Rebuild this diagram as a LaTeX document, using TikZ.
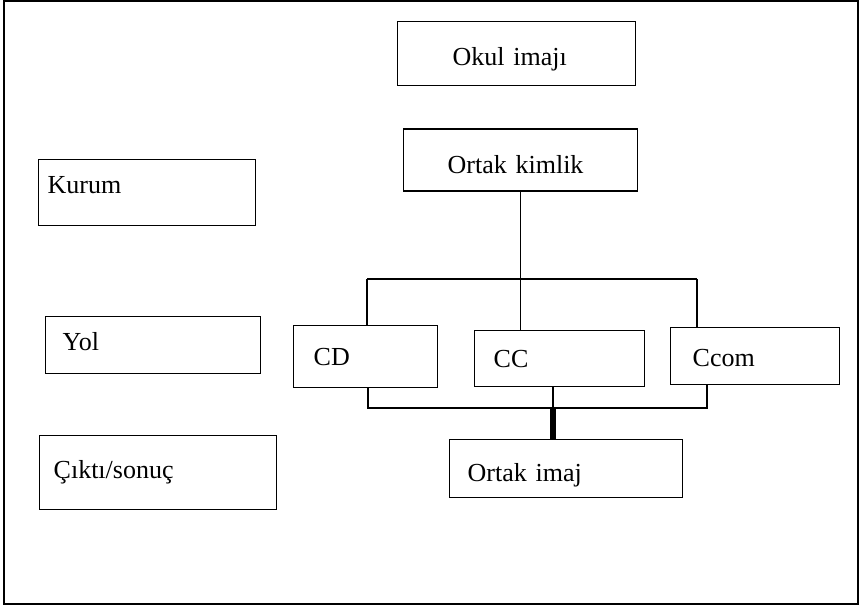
\documentclass[tikz,border=0pt]{standalone}
\usepackage{fontspec}
\setmainfont{Liberation Serif}
\usetikzlibrary{positioning}
\tikzset{
  kutu/.style={draw, line width=0.7pt, anchor=north west, align=left, inner ysep=0pt,
    text height=8.6pt, text depth=0pt, font=\fontsize{13}{15}\selectfont},
  hat/.style={line width=0.6pt},
}

\begin{document}
\begin{tikzpicture}[x=0.5pt, y=-0.5pt]
  \useasboundingbox (0,0) rectangle (861,608);
  \draw[line width=1pt] (4,1) rectangle (858,604);

  % sol sutun
  \node[kutu, minimum width=108.5pt, minimum height=33pt, inner xsep=4.5pt, text width=99.5pt, text depth=7.5pt] (kurum) at (38,159) {Kurum};
  \node[kutu, minimum width=107.5pt, minimum height=28.5pt, inner xsep=8.5pt, text width=90.5pt, text depth=3pt] (yol) at (45,316) {Yol};
  \node[kutu, minimum width=118.5pt, minimum height=37pt, inner xsep=7pt, text width=104.5pt, text depth=3pt] (cikti) at (39,435) {Çıktı/sonuç};

  % agac
  \node[kutu, minimum width=119pt, minimum height=32pt, inner xsep=27.5pt, text width=64pt, text height=11.6pt] (okul) at (397,21) {Okul imajı};
  \node[kutu, below=21pt of okul, xshift=2pt, minimum width=117pt, minimum height=31pt, inner xsep=22pt, text width=73pt, text height=13.1pt] (kimlik) {Ortak kimlik};
  \node[kutu, minimum width=72pt, minimum height=31pt, inner xsep=10pt, text width=52pt] (cd) at (293,325) {CD};
  \node[kutu, right=17.8pt of cd, yshift=-1pt, minimum width=85pt, minimum height=28pt, inner xsep=9.5pt, text width=66pt] (cc) {CC};
  \node[kutu, right=12.3pt of cc, yshift=1.25pt, minimum width=84.5pt, minimum height=28.5pt, inner xsep=11pt, text width=62.5pt, text height=10.6pt] (ccom) {Ccom};
  \node[kutu, minimum width=116.5pt, minimum height=29pt, inner xsep=9pt, text width=98.5pt, text height=13.1pt] (imaj) at (449,439) {Ortak imaj};

  \coordinate (ustsol) at (367,279);
  \coordinate (ustsag) at (697,279);
  \coordinate (altsol) at (368,408);
  \coordinate (altsag) at (707,408);
  \coordinate (birles) at (553,408);

  \draw[hat] (kimlik.south) -- (kimlik.south |- ustsol);
  \draw[hat] (ustsol) -- (ustsag);
  \draw[hat] (ustsol) -- (ustsol |- cd.north);
  \draw[hat] (kimlik.south |- ustsol) -- (kimlik.south |- cc.north);
  \draw[hat] (ustsag) -- (ustsag |- ccom.north);
  \draw[hat] (altsol |- cd.south) -- (altsol) -- (altsag) -- (altsag |- ccom.south);
  \draw[hat] (birles |- cc.south) -- (birles);
  \draw[line width=2.6pt] (birles) -- (birles |- imaj.north);
\end{tikzpicture}
\end{document}
